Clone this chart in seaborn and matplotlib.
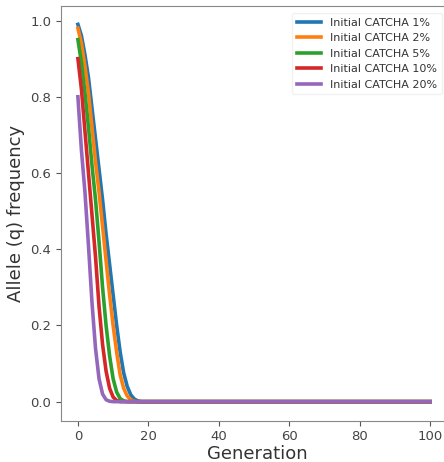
import numpy as np
import pandas as pd
import matplotlib
matplotlib.use("Agg")
import matplotlib.pyplot as plt
import seaborn as sns

# nilai awal (generasi 0, 1, 2, ...), sisanya 0
n_gen = 101
q_1pct = [0.99, 0.96, 0.91, 0.85, 0.77, 0.69, 0.61, 0.53, 0.44, 0.36, 0.28,
          0.20, 0.13, 0.075, 0.04, 0.018, 0.007, 0.002]
q_2pct = [0.98, 0.94, 0.88, 0.81, 0.72, 0.63, 0.55, 0.46, 0.37, 0.28, 0.20,
          0.13, 0.07, 0.035, 0.015, 0.005, 0.001]
q_5pct = [0.95, 0.89, 0.81, 0.72, 0.62, 0.53, 0.42, 0.30, 0.20, 0.12, 0.06,
          0.025, 0.008, 0.002]
q_10pct = [0.90, 0.82, 0.71, 0.60, 0.49, 0.38, 0.25, 0.15, 0.08, 0.035, 0.012,
           0.003]
q_20pct = [0.80, 0.66, 0.55, 0.41, 0.26, 0.14, 0.06, 0.02, 0.005, 0.001]

labels = ["Initial CATCHA 1%", "Initial CATCHA 2%", "Initial CATCHA 5%",
          "Initial CATCHA 10%", "Initial CATCHA 20%"]
series = [q_1pct, q_2pct, q_5pct, q_10pct, q_20pct]

rows = []
for lab, vals in zip(labels, series):
    full = vals + [0.0] * (n_gen - len(vals))
    for g, q in enumerate(full):
        rows.append({"Generation": g, "q": q, "label": lab})
df = pd.DataFrame(rows)

fig = plt.figure(figsize=(4.44, 4.62), dpi=100)
# sisi kanan sumbu terpotong seperti gambar aslinya
ax = fig.add_axes([61 / 444, 41.5 / 462, 392 / 444, 415 / 462])

sns.lineplot(data=df, x="Generation", y="q", hue="label", hue_order=labels,
             palette=sns.color_palette("tab10", 5), linewidth=2.6, ax=ax)

ax.set_xlim(-4.8, 106.5)
ax.set_xlabel("Generation", fontsize=13, color="#333333", labelpad=1)
ax.set_ylabel("Allele (q) frequency", fontsize=13, color="#333333", labelpad=4)
ax.set_xticks([0, 20, 40, 60, 80, 100])
ax.set_yticks([0.0, 0.2, 0.4, 0.6, 0.8, 1.0])
ax.tick_params(labelsize=9.5, labelcolor="#444444", color="#555555")
for s in ax.spines.values():
    s.set_color("#888888")
ax.spines["right"].set_visible(False)

leg = ax.legend(loc="upper right", bbox_to_anchor=(0.985, 0.995), fontsize=8,
                frameon=True, handlelength=2.2)
leg.get_frame().set_edgecolor("#eeeeee")
for line in leg.get_lines():
    line.set_linewidth(2.6)
for t in leg.get_texts():
    t.set_color("#333333")

fig.savefig("out.png", dpi=100)
